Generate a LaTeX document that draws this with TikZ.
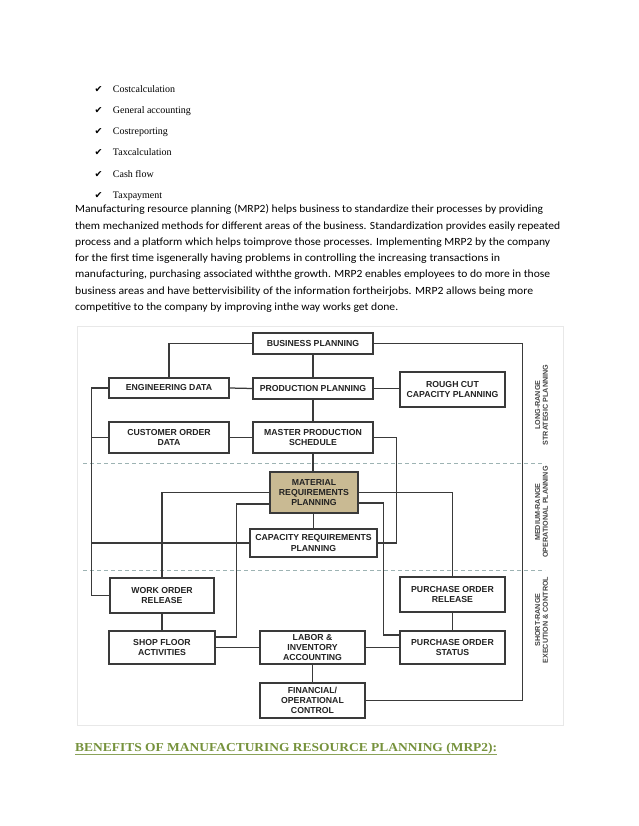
\documentclass[tikz,border=0pt]{standalone}
\usepackage{fontspec}
\usepackage{graphicx}
\setmainfont{Carlito}
\newfontfamily\arialb{Liberation Sans}
\newfontfamily\checkfont{DejaVu Sans}
\newfontfamily\listfont{Liberation Serif}
\newfontfamily\headfont{Liberation Serif}
\newcommand{\fitline}[2]{\resizebox{#1}{\height}{#2}}
\definecolor{boxline}{HTML}{3A3A3A}
\definecolor{boxtext}{HTML}{222222}
\definecolor{mrpfill}{HTML}{C9BA93}
\definecolor{dashcol}{HTML}{9DB3B3}
\definecolor{headgreen}{HTML}{76923C}
\definecolor{labgray}{HTML}{444444}
\begin{document}
\begin{tikzpicture}[x=1pt,y=-1pt,
  blk/.style={draw=boxline, line width=1.3pt, fill=white, inner sep=0pt, align=center,
    font=\arialb\bfseries\fontsize{8.7}{10}\selectfont, text=boxtext},
  conn/.style={draw=boxline, line width=1.25pt},
  zone/.style={draw=dashcol, line width=0.9pt, dash pattern=on 4pt off 3pt},
  sidelab/.style={rotate=90, align=center, inner sep=0pt,
    font=\arialb\bfseries\fontsize{7.2}{7.6}\selectfont, text=labgray},
  para/.style={anchor=base west, inner sep=0pt, font=\fontsize{11}{13}\selectfont},
  litem/.style={anchor=base west, inner sep=0pt, font=\listfont\fontsize{10}{12}\selectfont},
  tick/.style={anchor=base west, inner sep=0pt, font=\checkfont\fontsize{9.5}{11}\selectfont}
]
\useasboundingbox[fill=white] (0,0) rectangle (638,826);

% checklist
\foreach \t [count=\i from 0] in {Costcalculation, General accounting, Costreporting, Taxcalculation, Cash flow, Taxpayment} {
  \node[tick] (tk\i) at (94.5,92.3+21.2*\i) {✔};
  \node[litem] (li\i) at (112.7,92.3+21.2*\i) {\t};
}

% paragraph
\node[para] (p1) at (75,213.0) {\fitline{468pt}{Manufacturing resource planning (MRP2) helps business to standardize their processes by providing}};
\node[para] (p2) at (75,229.2) {\fitline{485pt}{them mechanized methods for different areas of the business. Standardization provides easily repeated}};
\node[para] (p3) at (75,245.4) {\fitline{475pt}{process and a platform which helps toimprove those processes. Implementing MRP2 by the company}};
\node[para] (p4) at (75,261.6) {\fitline{425pt}{for the first time isgenerally having problems in controlling the increasing transactions in}};
\node[para] (p5) at (75,277.8) {\fitline{475pt}{manufacturing, purchasing associated withthe growth. MRP2 enables employees to do more in those}};
\node[para] (p6) at (75,294.0) {\fitline{458pt}{business areas and have bettervisibility of the information fortheirjobs.  MRP2 allows being more}};
\node[para] (p7) at (75,310.2) {\fitline{323pt}{competitive to the company by improving inthe way works get done.}};

% diagram frame and zones
\draw[gray!18, line width=0.8pt] (77,326) rectangle (563,725);
\draw[zone] (83,463.5) -- (545,463.5);
\draw[zone] (83,570) -- (545,570);

% boxes
\node[blk, minimum width=120, minimum height=21] (BP) at (313,343.5) {BUSINESS PLANNING};
\node[blk, minimum width=120, minimum height=20] (ED) at (169,388) {ENGINEERING DATA};
\node[blk, minimum width=120, minimum height=21] (PP) at (313,388.5) {PRODUCTION PLANNING};
\node[blk, minimum width=105, minimum height=35] (RC) at (452.5,389.5) {ROUGH CUT\\CAPACITY PLANNING};
\node[blk, minimum width=120, minimum height=31] (CO) at (169,437.5) {CUSTOMER ORDER\\DATA};
\node[blk, minimum width=120, minimum height=31] (MPS) at (313,437.5) {MASTER PRODUCTION\\SCHEDULE};
\node[blk, fill=mrpfill, minimum width=88, minimum height=41] (MRP) at (314,492.5) {MATERIAL\\REQUIREMENTS\\PLANNING};
\node[blk, minimum width=127, minimum height=28] (CRP) at (313.5,543) {CAPACITY REQUIREMENTS\\PLANNING};
\node[blk, minimum width=104, minimum height=35] (WOR) at (162,595.5) {WORK ORDER\\RELEASE};
\node[blk, minimum width=105, minimum height=35] (POR) at (452.5,594.5) {PURCHASE ORDER\\RELEASE};
\node[blk, minimum width=106, minimum height=33] (SFA) at (162,647.5) {SHOP FLOOR\\ACTIVITIES};
\node[blk, minimum width=105, minimum height=33] (LIA) at (312.5,647.5) {LABOR \&\\INVENTORY\\ACCOUNTING};
\node[blk, minimum width=105, minimum height=33] (POS) at (452.5,647.5) {PURCHASE ORDER\\STATUS};
\node[blk, minimum width=105, minimum height=35] (FOC) at (312.5,700.5) {FINANCIAL/\\OPERATIONAL\\CONTROL};

% side labels
\node[sidelab] (lr) at (541.5,405) {LONG-RANGE\\STRATEGIC PLANNING};
\node[sidelab] (mr) at (541.5,512) {MEDIUM-RANGE\\OPERATIONAL PLANNING};
\node[sidelab] (sr) at (541.5,620) {SHORT-RANGE\\EXECUTION \& CONTROL};

% connectors
\coordinate (L) at ([xshift=-17pt]ED.west);
\draw[conn] (BP.west) -| (ED.north);
\draw[conn] (BP.south) -- (PP.north);
\draw[conn] (PP.south) -- (MPS.north);
\draw[conn] (MPS.south) -- (MPS.south |- MRP.north);
\draw[conn] (ED.east) -- (PP.west);
\draw[conn] (PP.east) -- (PP.east -| RC.west);
\draw[conn] (CO.east) -- (MPS.west);
\draw[conn] (MPS.east) -- ++(23,0) |- (CRP.east);
\draw[conn] (MRP.south -| CRP.north) -- (CRP.north);
\draw[conn] (MRP.west) -| (WOR.north);
\draw[conn] ([yshift=-11.5pt]MRP.west) -- ++(-33,0) |- ([yshift=10.5pt]SFA.east);
\draw[conn] (MRP.east) -| (POR.north);
\draw[conn] ([yshift=-10.5pt]MRP.east) -- ++(25,0) |- ([yshift=12.5pt]POS.west);
\draw[conn] (ED.west) -- (L) |- (WOR.west);
\draw[conn] (CO.west) -- (CO.west -| L);
\draw[conn] (CRP.west) -- (CRP.west -| L);
\draw[conn] (WOR.south) -- (SFA.north);
\draw[conn] (SFA.east) -- (LIA.west);
\draw[conn] (LIA.east) -- (POS.west);
\draw[conn] (POR.south) -- (POS.north);
\draw[conn] (LIA.south) -- (FOC.north);
\draw[conn] (FOC.east) -- ++(157,0) |- (BP.east);

% heading
\node[anchor=base west, inner sep=0pt, text=headgreen, font=\headfont\bfseries\fontsize{12.2}{14}\selectfont] (hd) at (75,751)
  {\fitline{422pt}{BENEFITS OF MANUFACTURING RESOURCE PLANNING (MRP2):}};
\draw[headgreen!85, line width=0.9pt] (hd.south west |- 0,754) -- (hd.south east |- 0,754);
\end{tikzpicture}
\end{document}
